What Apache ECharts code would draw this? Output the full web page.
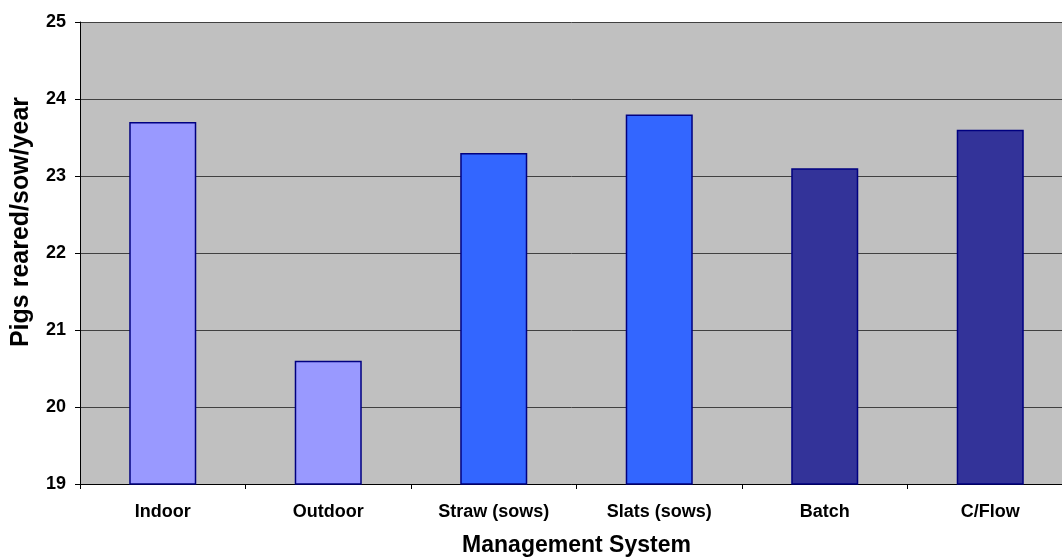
<!DOCTYPE html>
<html>
<head>
<meta charset="utf-8">
<script src="https://cdn.jsdelivr.net/npm/echarts@6/dist/echarts.min.js"></script>
<style>
  html, body { margin: 0; padding: 0; background: #fff; }
  #chart { width: 1062px; height: 558px; }
</style>
</head>
<body>
<div id="chart"></div>
<script>
// Management systems and pigs reared per sow per year
const categories = ['Indoor', 'Outdoor', 'Straw (sows)', 'Slats (sows)', 'Batch', 'C/Flow'];
const values = [23.7, 20.6, 23.3, 23.8, 23.1, 23.6];
const barColors = ['#9999FF', '#9999FF', '#3366FF', '#3366FF', '#333399', '#333399'];
const yTicks = { min: 19, max: 25, interval: 1 };

const font = 'Arial, "Liberation Sans", sans-serif';
const chart = echarts.init(document.getElementById('chart'), null, { renderer: 'canvas' });

chart.setOption({
  animation: false,
  backgroundColor: '#ffffff',
  grid: {
    left: 80, top: 22, width: 993, height: 462,
    outerBoundsMode: 'none',
    containLabel: false,
    show: true, backgroundColor: '#C0C0C0', borderWidth: 0
  },
  xAxis: {
    type: 'category',
    data: categories,
    name: 'Management System',
    nameLocation: 'middle',
    nameGap: 50,
    nameTextStyle: { fontFamily: font, fontWeight: 'bold', fontSize: 23, color: '#000' },
    axisLine: { lineStyle: { color: '#000', width: 1 } },
    axisTick: { show: true, length: 5, lineStyle: { color: '#000' } },
    axisLabel: { fontFamily: font, fontWeight: 'bold', fontSize: 18, color: '#000', margin: 19 },
    splitLine: { show: false }
  },
  yAxis: {
    type: 'value',
    min: yTicks.min, max: yTicks.max, interval: yTicks.interval,
    name: 'Pigs reared/sow/year',
    nameLocation: 'middle',
    nameRotate: 90,
    nameGap: 46,
    nameTextStyle: {
      fontFamily: font, fontWeight: 'bold', fontSize: 25, color: '#000',
      padding: [0, 0, 0, 62]
    },
    axisLine: { show: true, lineStyle: { color: '#000', width: 1 } },
    axisTick: { show: true, length: 5, lineStyle: { color: '#000' } },
    axisLabel: { fontFamily: font, fontWeight: 'bold', fontSize: 18, color: '#000', margin: 14 },
    splitLine: { show: true, lineStyle: { color: '#404040', width: 1 } }
  },
  series: [{
    type: 'bar',
    barWidth: '40.5%',
    data: values.map((v, i) => ({
      value: v,
      itemStyle: { color: barColors[i], borderColor: '#000080', borderWidth: 1.5 }
    }))
  }]
});
</script>
</body>
</html>
